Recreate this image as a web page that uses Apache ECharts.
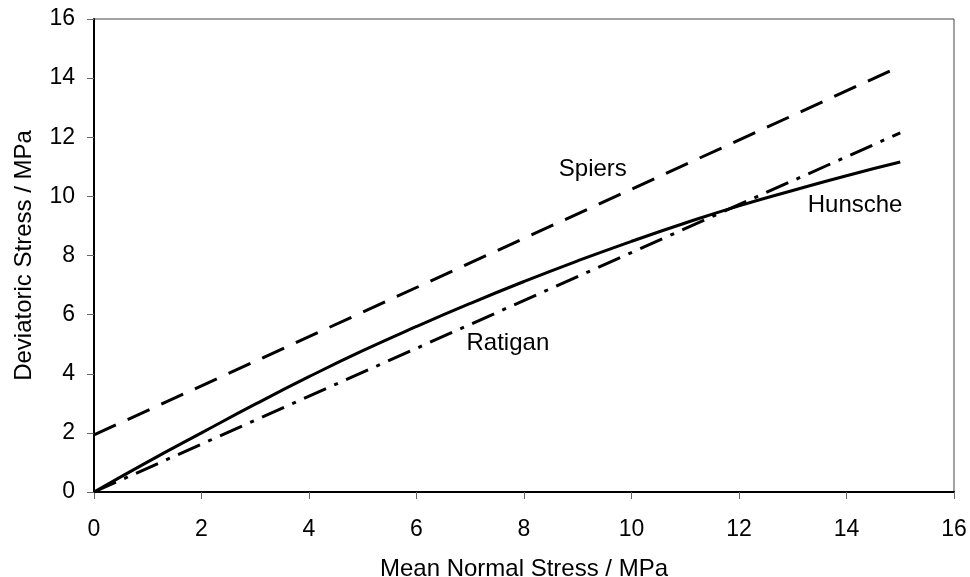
<!DOCTYPE html>
<html>
<head>
<meta charset="utf-8">
<script src="https://cdn.jsdelivr.net/npm/echarts@6/dist/echarts.min.js"></script>
<style>
  html, body { margin: 0; padding: 0; background: #fff; }
  #chart { width: 970px; height: 577px; }
</style>
</head>
<body>
<div id="chart"></div>
<script>
// Datos (MPa)
const spiers = [[0, 1.93], [15, 14.4]];
const ratigan = [[0, 0], [15, 12.15]];
const hunsche = [
  [0, 0], [1, 1.02], [2, 2.0], [3, 2.97], [4, 3.9], [5, 4.78], [6, 5.6],
  [7, 6.38], [8, 7.12], [9, 7.82], [10, 8.48], [11, 9.1], [12, 9.68],
  [13, 10.2], [14, 10.7], [15, 11.16]
];
const axisMin = 0;
const axisMax = 16;
const axisStep = 2;

const font = 'Liberation Sans, Arial, sans-serif';
const chart = echarts.init(document.getElementById('chart'));

function curveLabel(text, coord) {
  return {
    symbol: 'circle',
    symbolSize: 2,
    silent: true,
    itemStyle: { color: 'rgba(0,0,0,0)' },
    data: [{ coord: coord, name: text }],
    label: {
      show: true,
      position: 'inside',
      formatter: '{b}',
      color: '#000',
      fontFamily: font,
      fontSize: 24
    }
  };
}

chart.setOption({
  backgroundColor: '#fff',
  animation: false,
  grid: {
    left: 94, right: 16, top: 19, bottom: 85,
    outerBoundsMode: 'none',
    containLabel: false,
    show: true, borderColor: '#444', borderWidth: 1
  },
  xAxis: {
    type: 'value',
    min: axisMin, max: axisMax, interval: axisStep,
    name: 'Mean Normal Stress / MPa',
    nameLocation: 'middle',
    nameGap: 65,
    nameTextStyle: { color: '#000', fontFamily: font, fontSize: 24 },
    axisLine: { onZero: false, lineStyle: { color: '#000', width: 2 } },
    axisTick: { length: 7, lineStyle: { color: '#666', width: 1 } },
    axisLabel: { margin: 26, color: '#000', fontFamily: font, fontSize: 23 },
    splitLine: { show: false }
  },
  yAxis: {
    type: 'value',
    min: axisMin, max: axisMax, interval: axisStep,
    name: 'Deviatoric Stress / MPa',
    nameLocation: 'middle',
    nameGap: 58,
    nameTextStyle: { color: '#000', fontFamily: font, fontSize: 24 },
    axisLine: { show: true, onZero: false, lineStyle: { color: '#000', width: 2 } },
    axisTick: { show: true, length: 7, lineStyle: { color: '#666', width: 1 } },
    axisLabel: { margin: 19, color: '#000', fontFamily: font, fontSize: 23 },
    splitLine: { show: false }
  },
  series: [
    {
      name: 'Spiers',
      type: 'line',
      data: spiers,
      showSymbol: false,
      lineStyle: { color: '#000', width: 3, type: [24, 13] },
      markPoint: curveLabel('Spiers', [9.28, 10.9])
    },
    {
      name: 'Ratigan',
      type: 'line',
      data: ratigan,
      showSymbol: false,
      lineStyle: { color: '#000', width: 3, type: [24, 9, 4, 9] },
      markPoint: curveLabel('Ratigan', [7.7, 5.04])
    },
    {
      name: 'Hunsche',
      type: 'line',
      data: hunsche,
      smooth: true,
      showSymbol: false,
      lineStyle: { color: '#000', width: 3 },
      markPoint: curveLabel('Hunsche', [14.16, 9.71])
    }
  ]
});
</script>
</body>
</html>
